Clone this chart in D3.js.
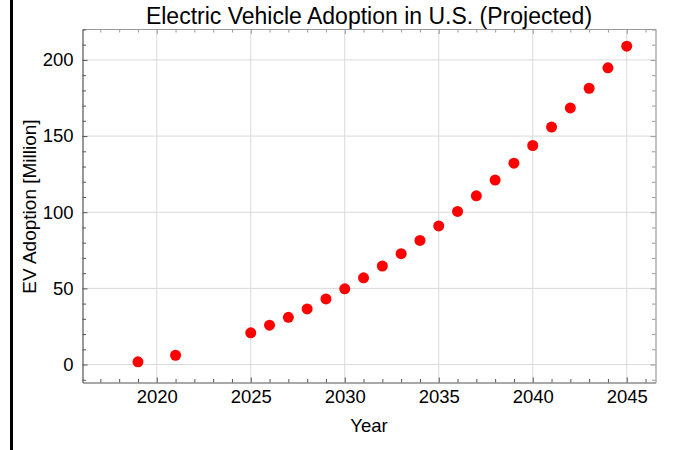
<!DOCTYPE html>
<html>
<head>
<meta charset="utf-8">
<script src="https://cdn.jsdelivr.net/npm/d3@7"></script>
<style>
  html, body { margin: 0; padding: 0; background: #fff; }
  svg { display: block; font-family: Arial, "Liberation Sans", sans-serif; }
</style>
</head>
<body>
<svg id="chart" width="686" height="450"></svg>
<script>
const years = [2019, 2021, 2025, 2026, 2027, 2028, 2029, 2030, 2031, 2032, 2033, 2034, 2035, 2036, 2037, 2038, 2039, 2040, 2041, 2042, 2043, 2044, 2045];
const adoption = [1.8, 6.1, 20.8, 25.8, 31.0, 36.5, 43.1, 49.7, 56.9, 64.7, 72.8, 81.5, 91.0, 100.5, 110.8, 121.1, 132.2, 143.8, 155.9, 168.5, 181.4, 194.8, 209.0];
const xTicks = [2020, 2025, 2030, 2035, 2040, 2045];
const yTicks = [0, 50, 100, 150, 200];
const title = "Electric Vehicle Adoption in U.S. (Projected)";
const xLabel = "Year";
const yLabel = "EV Adoption [Million]";

const svg = d3.select("#chart");
const L = 82.5, R = 655.5, T = 29, B = 382.5;

const x = d3.scaleLinear().domain([2016.05, 2046.53]).range([L, R]);
const y = d3.scaleLinear().domain([-11.8, 220.3]).range([B, T]);

const xMinor = d3.range(2017, 2047).filter(v => !xTicks.includes(v));
const yMinor = d3.range(-10, 221, 10).filter(v => !yTicks.includes(v));

// left black bar
svg.append("rect").attr("x", 10).attr("y", 0).attr("width", 3).attr("height", 450).attr("fill", "#000");

// grid
const grid = svg.append("g");
grid.selectAll("line.gx").data(xTicks).join("line")
  .attr("x1", d => x(d)).attr("x2", d => x(d)).attr("y1", T).attr("y2", B)
  .attr("stroke", "#d9d9d9").attr("stroke-width", 1);
grid.selectAll("line.gy").data(yTicks).join("line")
  .attr("y1", d => y(d)).attr("y2", d => y(d)).attr("x1", L).attr("x2", R)
  .attr("stroke", "#d9d9d9").attr("stroke-width", 1);

function styleAxis(g, color) {
  g.select(".domain").attr("stroke", color).attr("stroke-width", 1.2);
  g.selectAll(".tick line").attr("stroke", color);
  g.selectAll(".tick text").attr("fill", "#000").style("font-size", "18.5px").style("font-family", "Arial, 'Liberation Sans', sans-serif");
}

// major axes
const axB = svg.append("g").attr("transform", `translate(0,${B})`)
  .call(d3.axisBottom(x).tickValues(xTicks).tickFormat(d3.format("d")).tickSizeInner(-5).tickSizeOuter(0).tickPadding(7));
styleAxis(axB, "#555");
const axL = svg.append("g").attr("transform", `translate(${L},0)`)
  .call(d3.axisLeft(y).tickValues(yTicks).tickFormat(d3.format("d")).tickSizeInner(-5).tickSizeOuter(0).tickPadding(9));
styleAxis(axL, "#555");
const axT = svg.append("g").attr("transform", `translate(0,${T})`)
  .call(d3.axisTop(x).tickValues(xTicks).tickFormat("").tickSizeInner(-5).tickSizeOuter(0));
styleAxis(axT, "#999");
const axR = svg.append("g").attr("transform", `translate(${R},0)`)
  .call(d3.axisRight(y).tickValues(yTicks).tickFormat("").tickSizeInner(-5).tickSizeOuter(0));
styleAxis(axR, "#999");

// minor ticks
const mB = svg.append("g").attr("transform", `translate(0,${B})`)
  .call(d3.axisBottom(x).tickValues(xMinor).tickFormat("").tickSizeInner(-3.5).tickSizeOuter(0));
mB.select(".domain").remove(); mB.selectAll("line").attr("stroke", "#555");
const mT = svg.append("g").attr("transform", `translate(0,${T})`)
  .call(d3.axisTop(x).tickValues(xMinor).tickFormat("").tickSizeInner(-3.5).tickSizeOuter(0));
mT.select(".domain").remove(); mT.selectAll("line").attr("stroke", "#999");
const mL = svg.append("g").attr("transform", `translate(${L},0)`)
  .call(d3.axisLeft(y).tickValues(yMinor).tickFormat("").tickSizeInner(-3.5).tickSizeOuter(0));
mL.select(".domain").remove(); mL.selectAll("line").attr("stroke", "#555");
const mR = svg.append("g").attr("transform", `translate(${R},0)`)
  .call(d3.axisRight(y).tickValues(yMinor).tickFormat("").tickSizeInner(-3.5).tickSizeOuter(0));
mR.select(".domain").remove(); mR.selectAll("line").attr("stroke", "#999");

// points
svg.append("g").selectAll("circle").data(years.map((yr, i) => ({yr, v: adoption[i]}))).join("circle")
  .attr("cx", d => x(d.yr)).attr("cy", d => y(d.v)).attr("r", 5.5).attr("fill", "#ff0000");

// title and labels
svg.append("text").attr("x", (L + R) / 2).attr("y", 24).attr("text-anchor", "middle")
  .style("font-size", "23px").attr("fill", "#000").text(title);
svg.append("text").attr("x", (L + R) / 2).attr("y", 432).attr("text-anchor", "middle")
  .style("font-size", "18.5px").attr("fill", "#000").text(xLabel);
svg.append("text").attr("transform", `translate(35.5,206.5) rotate(-90)`).attr("text-anchor", "middle")
  .style("font-size", "19px").attr("fill", "#000").text(yLabel);
</script>
</body>
</html>
